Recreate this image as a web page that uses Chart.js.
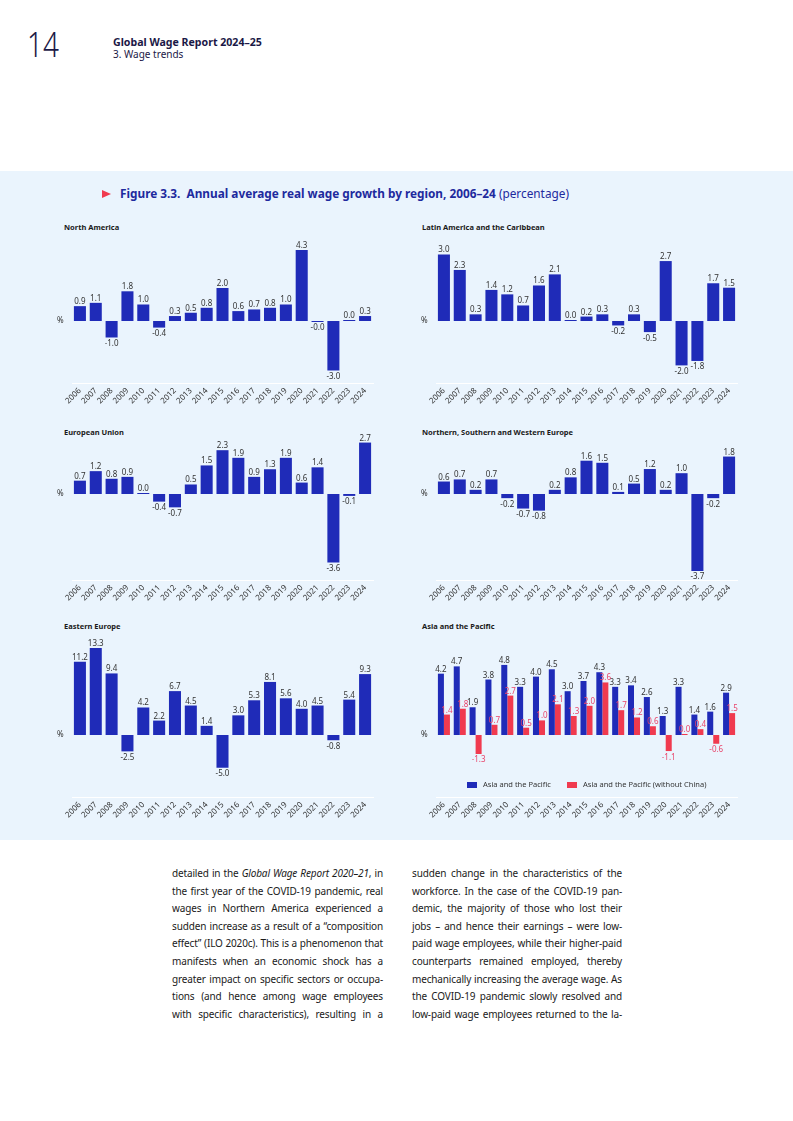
<!DOCTYPE html>
<html>
<head>
<meta charset="utf-8">
<script src="https://cdn.jsdelivr.net/npm/chart.js@4.4.1/dist/chart.umd.min.js"></script>
<style>
  body { margin: 0; width: 793px; height: 1121px; position: relative; overflow: hidden; background: #fff; font-family: "Noto Sans", sans-serif; color: #222; }
  .t { position: absolute; line-height: 1; white-space: nowrap; }
  .band { position: absolute; left: 0; top: 171px; width: 793px; height: 669px; background: #eaf4fd; }
  canvas { position: absolute; }
  .ptitle { position: absolute; font-size: 7.5px; font-weight: 700; color: #1a1a1a; line-height: 1; white-space: nowrap; }
  .col { position: absolute; top: 865px; font-size: 10px; letter-spacing: -0.15px; line-height: 17.6px; color: #1a1a1a; }
  .col div { text-align: justify; text-align-last: justify; white-space: nowrap; }
  .leg { position: absolute; font-size: 7.5px; color: #333; line-height: 1; white-space: nowrap; }
  .box { position: absolute; width: 10px; height: 6px; }
</style>
</head>
<body>
<div class="t" style="left:27px;top:27px;font-size:34px;font-weight:300;color:#1b1846;transform:scaleX(0.82);transform-origin:left top">14</div>
<div class="t" style="left:113px;top:37px;font-size:10.6px;font-weight:700;color:#1b1846">Global Wage Report 2024–25</div>
<div class="t" style="left:113px;top:49px;font-size:10px;color:#1b1846">3. Wage trends</div>

<div class="band"></div>
<div style="position:absolute;left:102px;top:189.5px;width:0;height:0;border-left:9px solid #f03a4f;border-top:4.5px solid transparent;border-bottom:4.5px solid transparent"></div>
<div class="t" style="left:120px;top:188px;font-size:11.8px;color:#1e2a9e"><b>Figure 3.3.&nbsp; Annual average real wage growth by region, 2006–24</b> (percentage)</div>

<div class="ptitle" style="left:64px;top:224px">North America</div>
<div class="ptitle" style="left:422px;top:224px">Latin America and the Caribbean</div>
<div class="ptitle" style="left:64px;top:429px">European Union</div>
<div class="ptitle" style="left:422px;top:429px">Northern, Southern and Western Europe</div>
<div class="ptitle" style="left:64px;top:623px">Eastern Europe</div>
<div class="ptitle" style="left:422px;top:623px">Asia and the Pacific</div>

<canvas id="na" width="350" height="189" style="left:40px;top:226px"></canvas>
<canvas id="la" width="350" height="189" style="left:404px;top:226px"></canvas>
<canvas id="eu" width="350" height="186" style="left:40px;top:426px"></canvas>
<canvas id="nswe" width="350" height="186" style="left:404px;top:426px"></canvas>
<canvas id="ee" width="350" height="203" style="left:40px;top:626px"></canvas>
<canvas id="ap" width="350" height="203" style="left:404px;top:626px"></canvas>

<div class="box" style="left:467px;top:781.5px;background:#1f2bb8"></div>
<div class="leg" style="left:483px;top:780.5px">Asia and the Pacific</div>
<div class="box" style="left:567px;top:781.5px;background:#f03a4f"></div>
<div class="leg" style="left:583px;top:780.5px">Asia and the Pacific (without China)</div>

<div class="col" style="left:172px;width:211px">
  <div>detailed in the <i>Global Wage Report 2020–21</i>, in</div>
  <div>the first year of the COVID-19 pandemic, real</div>
  <div>wages in Northern America experienced a</div>
  <div>sudden increase as a result of a “composition</div>
  <div>effect” (ILO 2020c). This is a phenomenon that</div>
  <div>manifests when an economic shock has a</div>
  <div>greater impact on specific sectors or occupa-</div>
  <div>tions (and hence among wage employees</div>
  <div>with specific characteristics), resulting in a</div>
</div>
<div class="col" style="left:412px;width:210px">
  <div>sudden change in the characteristics of the</div>
  <div>workforce. In the case of the COVID-19 pan-</div>
  <div>demic, the majority of those who lost their</div>
  <div>jobs – and hence their earnings – were low-</div>
  <div>paid wage employees, while their higher-paid</div>
  <div>counterparts remained employed, thereby</div>
  <div>mechanically increasing the average wage. As</div>
  <div>the COVID-19 pandemic slowly resolved and</div>
  <div>low-paid wage employees returned to the la-</div>
</div>

<script>
const years = ['2006', '2007', '2008', '2009', '2010', '2011', '2012', '2013', '2014', '2015',
  '2016', '2017', '2018', '2019', '2020', '2021', '2022', '2023', '2024'];

// annual real wage growth, %
const northAmerica = [0.9, 1.1, -1.0, 1.8, 1.0, -0.4, 0.3, 0.5, 0.8, 2.0, 0.6, 0.7, 0.8, 1.0, 4.3, -0.04, -3.0, 0.02, 0.3];
const latinAmerica = [3.0, 2.3, 0.3, 1.4, 1.2, 0.7, 1.6, 2.1, 0.02, 0.2, 0.3, -0.2, 0.3, -0.5, 2.7, -2.0, -1.8, 1.7, 1.5];
const europeanUnion = [0.7, 1.2, 0.8, 0.9, 0.02, -0.4, -0.7, 0.5, 1.5, 2.3, 1.9, 0.9, 1.3, 1.9, 0.6, 1.4, -3.6, -0.1, 2.7];
const nswEurope = [0.6, 0.7, 0.2, 0.7, -0.2, -0.7, -0.8, 0.2, 0.8, 1.6, 1.5, 0.1, 0.5, 1.2, 0.2, 1.0, -3.7, -0.2, 1.8];
const easternEurope = [11.2, 13.3, 9.4, -2.5, 4.2, 2.2, 6.7, 4.5, 1.4, -5.0, 3.0, 5.3, 8.1, 5.6, 4.0, 4.5, -0.8, 5.4, 9.3];
const asiaPacific = [4.2, 4.7, 1.9, 3.8, 4.8, 3.3, 4.0, 4.5, 3.0, 3.7, 4.3, 3.3, 3.4, 2.6, 1.3, 3.3, 1.4, 1.6, 2.9];
const asiaPacificExChina = [1.4, 1.8, -1.3, 0.7, 2.7, 0.5, 1.0, 2.1, 1.3, 2.0, 3.6, 1.7, 1.2, 0.6, -1.1, 0.02, 0.4, -0.6, 1.5];

const BLUE = '#1f2bb8';
const RED = '#f03a4f';

Chart.defaults.font.family = '"Noto Sans", sans-serif';

// value above/below each bar, plus the little "%" by the zero line
const valueLabels = {
  id: 'valueLabels',
  afterDatasetsDraw(chart) {
    const { ctx, chartArea, scales: { y } } = chart;
    ctx.save();
    ctx.font = '8px "Noto Sans"';
    ctx.textAlign = 'center';
    ctx.textBaseline = 'alphabetic';
    chart.data.datasets.forEach((ds, i) => {
      ctx.fillStyle = ds.labelColor;
      chart.getDatasetMeta(i).data.forEach((bar, j) => {
        const v = ds.data[j];
        const txt = v.toFixed(1);
        if (v >= 0) ctx.fillText(txt, bar.x, bar.y - 2);
        else ctx.fillText(txt, bar.x, bar.y + 8.5);
      });
    });
    ctx.fillStyle = '#333';
    ctx.textAlign = 'left';
    ctx.textBaseline = 'middle';
    ctx.fillText('%', chartArea.left - 15, y.getPixelForValue(0));
    ctx.restore();
  }
};

function makeChart(id, datasets, yMin, yMax, grouped) {
  new Chart(document.getElementById(id), {
    type: 'bar',
    data: {
      labels: years,
      datasets: datasets.map(d => ({
        label: d.label,
        data: d.data,
        backgroundColor: d.color,
        labelColor: d.labelColor,
        borderWidth: 0,
        minBarLength: 1,
        categoryPercentage: grouped ? 0.76 : 1,
        barPercentage: grouped ? 1 : 0.76
      }))
    },
    options: {
      responsive: false,
      animation: false,
      layout: { padding: { left: 32, right: 17, top: 14, bottom: 0 } },
      plugins: { legend: { display: false }, tooltip: { enabled: false } },
      scales: {
        x: {
          grid: { display: false, drawTicks: false },
          border: { display: true, color: '#ffffff', width: 1 },
          ticks: { color: '#333', font: { size: 8 }, minRotation: 45, maxRotation: 45, padding: 3, autoSkip: false },
          afterFit: s => { s.height = 32; }
        },
        y: { display: false, min: yMin, max: yMax }
      }
    },
    plugins: [valueLabels]
  });
}

makeChart('na', [{ label: 'North America', data: northAmerica, color: BLUE, labelColor: '#333' }], -3.758, 4.909);
makeChart('la', [{ label: 'Latin America and the Caribbean', data: latinAmerica, color: BLUE, labelColor: '#333' }], -2.793, 3.649);
makeChart('eu', [{ label: 'European Union', data: europeanUnion, color: BLUE, labelColor: '#333' }], -4.514, 2.835);
makeChart('nswe', [{ label: 'Northern, Southern and Western Europe', data: nswEurope, color: BLUE, labelColor: '#333' }], -4.135, 2.596);
makeChart('ee', [{ label: 'Eastern Europe', data: easternEurope, color: BLUE, labelColor: '#333' }], -9.466, 14.504);
makeChart('ap', [
  { label: 'Asia and the Pacific', data: asiaPacific, color: BLUE, labelColor: '#333' },
  { label: 'Asia and the Pacific (without China)', data: asiaPacificExChina, color: RED, labelColor: '#e9446a' }
], -4.247, 6.507, true);
</script>
</body>
</html>
